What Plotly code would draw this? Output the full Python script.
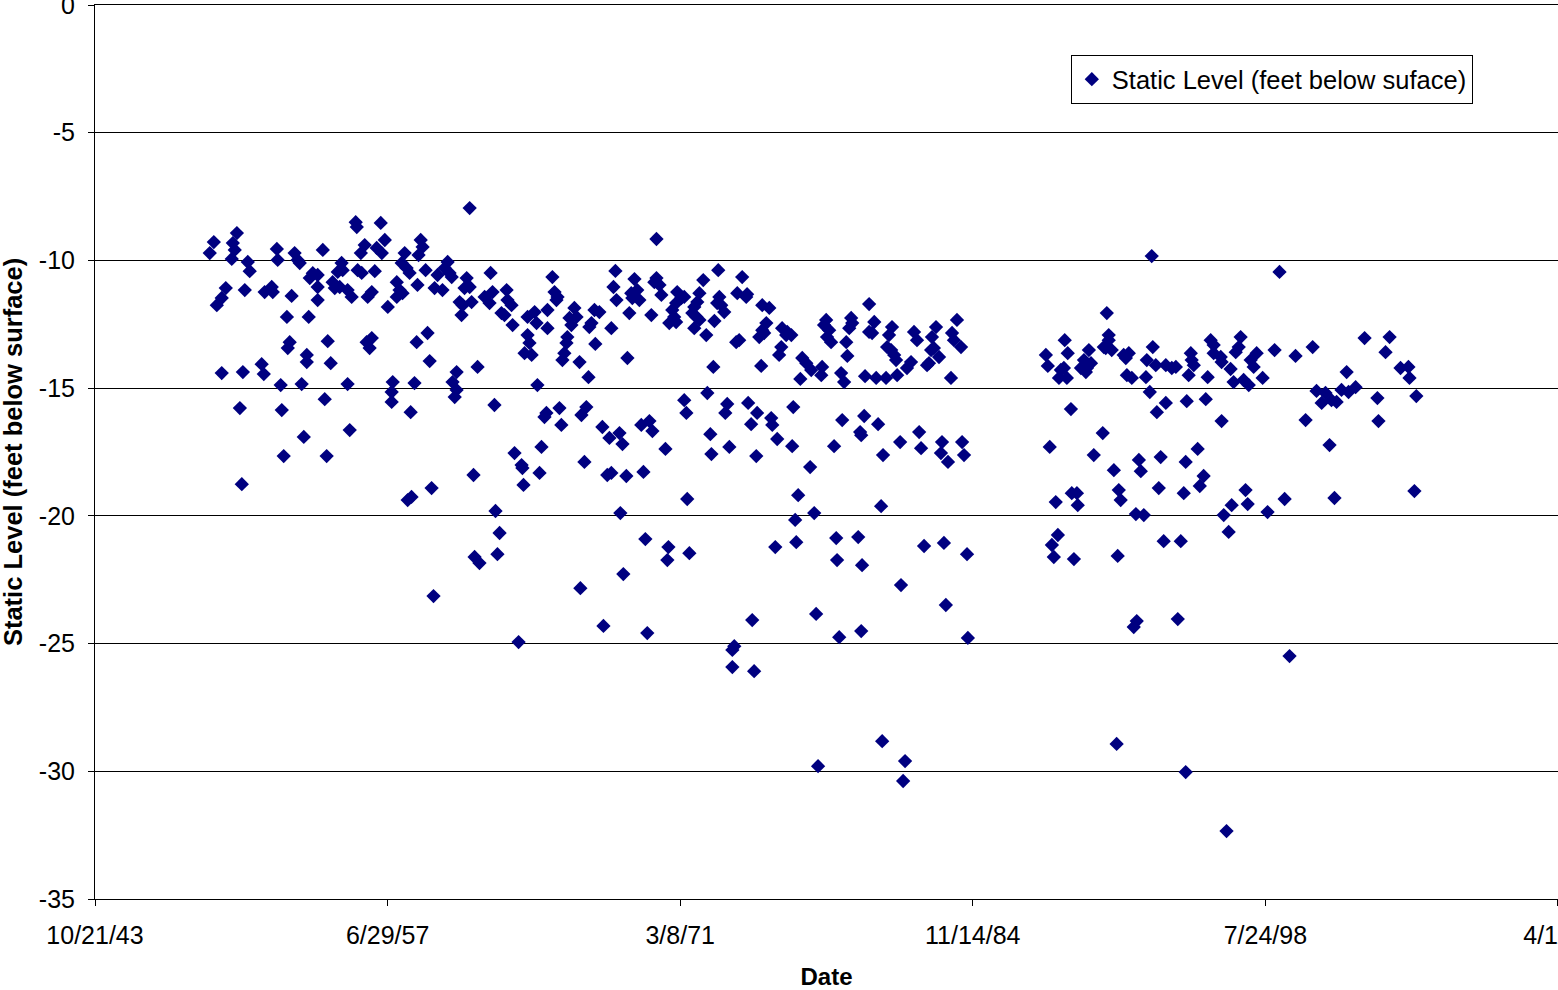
import datetime as dt
import plotly.graph_objects as go

# Measurement dates (decimal years) and static water level (feet, negative = below surface)
decimal_year = [
    1949.36, 1949.17, 1950.44, 1950.25, 1950.34, 1950.20, 1950.95, 1951.04, 1949.92, 1949.73,
    1949.50, 1950.81, 1952.31, 1952.35, 1951.74, 1952.07, 1952.12, 1953.00, 1952.78, 1953.14,
    1953.28, 1953.38, 1954.46, 1953.80, 1952.91, 1952.82, 1953.71, 1953.71, 1954.69, 1954.83,
    1949.73, 1950.72, 1951.60, 1951.70, 1952.49, 1953.47, 1950.58, 1952.54, 1954.55, 1955.62,
    1953.57, 1952.63, 1954.64, 1955.72, 1950.67, 1953.99, 1954.22, 1953.85, 1954.22, 1954.22,
    1954.92, 1955.02, 1955.25, 1955.34, 1955.39, 1955.16, 1955.62, 1955.81, 1956.00, 1956.05,
    1956.24, 1956.42, 1956.09, 1956.28, 1956.89, 1956.56, 1956.75, 1957.50, 1957.17, 1956.98,
    1957.36, 1957.22, 1956.51, 1956.65, 1956.75, 1957.73, 1957.68, 1957.68,
    1961.33, 1959.04, 1959.13, 1958.94, 1958.29, 1958.15, 1958.38, 1958.52, 1957.92, 1958.05,
    1958.19, 1957.92, 1959.27, 1958.89, 1960.30, 1960.16, 1960.39, 1960.49, 1959.83, 1959.69,
    1960.06, 1962.31, 1961.19, 1961.33, 1961.09, 1960.86, 1961.00, 1961.42, 1960.95, 1962.03,
    1962.26, 1962.40, 1963.06, 1963.10, 1963.29, 1962.82, 1962.96, 1963.34, 1964.04, 1964.37,
    1964.46, 1964.04, 1964.13, 1963.90, 1964.23, 1964.97, 1964.97, 1965.20, 1965.30, 1965.44,
    1965.39, 1966.23, 1966.33, 1966.00, 1966.09, 1965.90, 1965.86, 1965.76, 1965.67, 1966.47,
    1966.89, 1967.17, 1967.40, 1967.03, 1966.93, 1967.21, 1958.85, 1959.36, 1959.46, 1960.72,
    1960.53, 1960.72, 1960.63, 1961.70, 1958.75, 1958.57, 1962.49, 1964.50, 1964.83, 1964.92,
    1965.53, 1965.62, 1966.56, 1966.79, 1964.69, 1963.43, 1963.76, 1963.80, 1964.60, 1966.70,
    1961.51, 1958.43, 1958.61, 1959.55, 1963.85, 1962.54, 1962.73, 1961.56, 1961.79, 1962.63,
    1959.64, 1966.51, 1967.59, 1963.62,
    1970.07, 1968.15, 1969.04, 1968.06, 1968.20, 1968.80, 1967.96, 1968.89, 1969.17, 1969.27,
    1968.94, 1969.83, 1970.07, 1970.21, 1970.30, 1969.97, 1971.04, 1971.23, 1970.99, 1970.81,
    1970.90, 1970.67, 1970.99, 1971.37, 1972.08, 1971.98, 1971.84, 1971.75, 1971.94, 1971.84,
    1972.08, 1972.26, 1972.40, 1972.78, 1972.96, 1973.01, 1973.10, 1973.24, 1972.91, 1968.71,
    1972.73, 1974.08, 1973.85, 1974.27, 1974.31, 1973.80, 1973.94, 1975.02, 1975.35, 1975.21,
    1975.02, 1974.88, 1975.11, 1974.97, 1975.95, 1976.19, 1976.14, 1975.91, 1975.81, 1972.45,
    1971.37, 1971.47, 1973.38, 1973.29, 1974.36, 1974.78, 1974.50, 1975.44, 1975.49, 1967.54,
    1968.34, 1967.87, 1968.48, 1969.36, 1969.74, 1969.88, 1970.49, 1972.59, 1972.64, 1973.48,
    1974.74, 1975.72, 1967.77, 1967.96, 1968.66, 1969.46, 1971.51, 1968.38, 1969.55, 1970.63,
    1970.58, 1971.61, 1968.52, 1969.64, 1975.63, 1974.55, 1973.71, 1973.62, 1973.62, 1974.64,
    1980.02, 1978.01, 1977.91, 1978.15, 1978.05, 1978.24, 1979.18, 1979.23, 1979.09, 1978.95,
    1979.00, 1980.26, 1980.02, 1980.16, 1981.09, 1980.95, 1980.86, 1981.05, 1981.19, 1981.28,
    1982.12, 1982.26, 1983.15, 1982.96, 1982.92, 1983.05, 1983.29, 1984.13, 1983.90, 1983.99,
    1984.32, 1982.73, 1982.82, 1981.98, 1981.79, 1976.89, 1977.08, 1977.31, 1977.78, 1977.82,
    1976.38, 1976.80, 1978.71, 1978.85, 1979.83, 1980.35, 1980.81, 1981.33, 1983.85, 1976.47,
    1978.76, 1979.79, 1980.44, 1979.60, 1979.65, 1976.42, 1978.38, 1980.67, 1981.47, 1982.36,
    1982.45, 1983.43, 1983.38, 1983.71, 1984.37, 1984.46, 1977.26, 1976.70, 1977.45, 1980.58,
    1976.56, 1976.61, 1978.48, 1979.51, 1978.52, 1979.69, 1982.59, 1983.52, 1984.60, 1981.51,
    1983.61, 1977.54, 1978.62, 1979.65, 1984.64, 1980.63, 1981.70, 1977.63, 1981.61,
    1993.24, 1991.14, 1988.29, 1988.38, 1989.17, 1989.31, 1988.99, 1989.13, 1988.90, 1989.27,
    1990.30, 1990.07, 1990.40, 1990.21, 1989.93, 1990.16, 1991.23, 1991.23, 1991.09, 1991.37,
    1991.00, 1991.93, 1992.17, 1992.03, 1992.08, 1992.31, 1992.97, 1993.29, 1993.01, 1993.43,
    1993.90, 1994.18, 1994.37, 1995.07, 1995.11, 1995.21, 1994.97, 1995.86, 1996.00, 1996.14,
    1996.14, 1993.15, 1993.90, 1993.48, 1994.88, 1995.77, 1989.46, 1988.47, 1990.95, 1990.53,
    1991.47, 1992.64, 1992.73, 1993.66, 1994.83, 1995.39, 1995.67, 1995.49, 1993.57, 1994.74,
    1989.50, 1989.74, 1989.78, 1988.75, 1991.70, 1991.79, 1992.50, 1992.87, 1988.85, 1988.57,
    1988.66, 1989.60, 1991.65, 1993.80, 1994.60, 1992.54, 1992.40, 1994.46, 1991.60, 1994.83,
    1999.22, 1997.40, 1997.31, 1997.17, 1996.47, 1996.51, 1996.93, 1997.07, 1997.54, 1997.78,
    1997.87, 1998.15, 1998.01, 1998.43, 1998.99, 1999.97, 2000.77, 2002.36, 2000.95, 2001.37,
    2001.19, 2001.65, 2001.89, 2002.12, 2002.45, 2002.78, 2003.20, 2004.37, 2004.18, 2004.88,
    2005.25, 2005.30, 2003.80, 2005.62, 1996.51, 2000.44, 2003.85, 2001.56, 1997.63, 1996.98,
    1996.61, 1997.73, 1998.66, 1999.46, 2001.79, 2005.53, 1996.84, 1999.69, 1996.74,
]

static_level = [
    -9.28, -9.71, -8.93, -9.32, -9.59, -9.94, -10.06, -10.42, -11.08, -11.47,
    -11.75, -11.16, -9.55, -9.98, -11.24, -11.04, -11.24, -11.39, -12.21, -9.71,
    -9.98, -10.10, -9.59, -12.21, -13.20, -13.43, -13.70, -13.98, -13.16, -14.02,
    -14.41, -14.37, -14.06, -14.45, -14.88, -14.84, -15.78, -15.86, -15.43, -14.84,
    -16.91, -17.66, -17.66, -16.64, -18.76, -10.50, -10.57, -10.69, -11.04, -11.55,
    -10.85, -11.08, -11.04, -10.10, -10.38, -10.45, -11.16, -11.43, -8.50, -8.69,
    -9.71, -9.40, -10.38, -10.49, -10.42, -11.43, -11.24, -11.82, -8.53, -9.51,
    -9.20, -9.71, -13.20, -13.43, -13.04, -14.76, -15.15, -15.54,
    -7.95, -9.20, -9.47, -9.79, -9.71, -10.10, -10.30, -10.49, -10.85, -11.16,
    -11.28, -11.43, -10.38, -10.96, -10.06, -10.30, -10.49, -10.65, -10.57, -11.08,
    -11.16, -10.49, -10.69, -11.04, -11.08, -11.63, -11.75, -11.63, -12.14, -11.43,
    -11.67, -11.24, -11.16, -11.55, -11.75, -12.06, -12.14, -12.53, -12.21, -12.02,
    -12.45, -12.92, -13.23, -13.63, -13.70, -11.94, -12.65, -10.65, -11.24, -11.43,
    -11.55, -11.86, -12.21, -12.25, -12.53, -13.00, -13.23, -13.63, -13.90, -13.98,
    -14.57, -11.94, -12.02, -12.45, -12.61, -13.27, -13.20, -12.84, -13.94, -14.37,
    -14.76, -15.07, -15.35, -14.17, -14.80, -15.94, -15.66, -14.88, -16.13, -15.97,
    -15.78, -16.44, -16.05, -15.74, -17.30, -17.54, -18.01, -18.13, -18.32, -17.89,
    -18.40, -19.38, -19.26, -18.91, -18.79, -19.81, -20.67, -21.61, -21.85, -21.50,
    -23.14, -22.83, -24.31, -24.94,
    -9.16, -10.41, -10.73, -11.04, -11.55, -12.06, -12.65, -11.28, -11.16, -11.55,
    -11.47, -12.14, -10.69, -10.96, -11.35, -10.85, -11.24, -11.47, -11.67, -11.94,
    -12.21, -12.45, -12.41, -11.43, -11.28, -11.63, -11.82, -12.06, -12.21, -12.65,
    -12.33, -10.77, -12.92, -12.37, -10.38, -11.43, -11.75, -12.02, -11.67, -13.82,
    -14.17, -10.65, -11.28, -11.43, -11.32, -13.20, -13.12, -11.75, -11.86, -12.45,
    -12.73, -13.00, -12.84, -14.13, -12.65, -12.80, -12.92, -13.39, -13.70, -15.19,
    -15.47, -15.97, -15.62, -15.97, -15.58, -15.97, -16.41, -16.17, -16.44, -16.52,
    -16.76, -16.95, -17.19, -16.44, -16.29, -16.68, -17.38, -16.80, -17.58, -17.30,
    -17.66, -16.99, -18.40, -18.32, -18.44, -18.28, -19.34, -19.89, -20.91, -21.22,
    -21.73, -21.46, -22.28, -24.59, -21.22, -24.08, -25.10, -25.25, -25.92, -26.08,
    -11.71, -12.33, -12.53, -12.73, -13.00, -13.20, -12.25, -12.45, -12.65, -13.20,
    -13.74, -12.41, -12.80, -12.84, -12.61, -12.92, -13.39, -13.51, -13.70, -13.90,
    -12.80, -13.12, -12.61, -13.00, -13.51, -13.43, -13.78, -12.33, -12.84, -13.12,
    -13.39, -14.10, -14.02, -13.98, -14.21, -13.82, -14.02, -14.29, -14.49, -14.17,
    -12.92, -14.64, -14.41, -14.76, -14.53, -14.60, -14.60, -14.49, -14.60, -15.74,
    -16.25, -16.09, -16.41, -16.72, -16.84, -17.27, -17.27, -17.62, -17.11, -16.72,
    -17.35, -17.11, -17.54, -17.89, -17.11, -17.62, -18.09, -19.19, -19.89, -19.62,
    -20.16, -21.03, -20.87, -20.83, -21.73, -21.93, -21.18, -21.06, -21.50, -22.71,
    -23.49, -23.84, -24.75, -24.51, -24.78, -28.82, -29.60, -29.80, -30.38,
    -9.83, -12.06, -13.70, -14.13, -13.12, -13.63, -14.29, -14.21, -14.60, -14.60,
    -13.51, -13.90, -14.02, -14.21, -14.21, -14.37, -12.92, -13.12, -13.43, -13.51,
    -13.39, -13.70, -13.63, -13.82, -14.49, -14.60, -14.57, -13.39, -13.90, -14.10,
    -14.10, -14.21, -14.17, -13.63, -13.90, -14.10, -14.49, -14.57, -13.12, -13.31,
    -13.63, -15.15, -15.58, -15.94, -15.51, -15.43, -15.82, -17.30, -16.76, -17.62,
    -18.21, -17.81, -18.25, -17.70, -17.89, -17.38, -18.44, -18.83, -18.91, -19.11,
    -19.11, -19.11, -19.58, -19.46, -18.99, -19.38, -19.93, -19.97, -20.75, -21.14,
    -21.61, -21.69, -21.57, -20.99, -20.99, -24.12, -24.35, -24.04, -28.93, -30.03,
    -10.45, -13.00, -13.39, -13.59, -13.78, -13.98, -14.25, -14.76, -14.68, -14.88,
    -13.90, -13.63, -14.17, -14.60, -13.51, -13.74, -13.39, -14.37, -15.11, -15.19,
    -15.58, -15.47, -15.54, -15.07, -15.15, -14.96, -13.04, -13.00, -13.59, -14.21,
    -14.17, -14.60, -15.39, -15.31, -16.29, -16.25, -16.29, -17.23, -18.99, -19.58,
    -19.97, -19.54, -19.85, -19.34, -19.30, -19.03, -20.63, -25.49, -32.34,
]

# Axis ticks every 5000 days, labelled m/d/yy
tick_dates = ["1943-10-21", "1957-06-29", "1971-03-08", "1984-11-14", "1998-07-24", "2012-04-01"]
tick_labels = ["10/21/43", "6/29/57", "3/8/71", "11/14/84", "7/24/98", "4/1/12"]
level_ticks = [0, -5, -10, -15, -20, -25, -30, -35]
level_labels = ["0", "-5", "-10", "-15", "-20", "-25", "-30", "-35"]


def to_date(y):
    year = int(y)
    start = dt.datetime(year, 1, 1)
    length = (dt.datetime(year + 1, 1, 1) - start).total_seconds()
    return start + dt.timedelta(seconds=(y - year) * length)


dates = [to_date(y) for y in decimal_year]

FONT = "Arial, 'Liberation Sans', sans-serif"

fig = go.Figure()
fig.add_trace(go.Scatter(
    x=dates,
    y=static_level,
    mode="markers",
    name="Static Level (feet below suface)",
    marker=dict(symbol="diamond", size=11, color="#000080", line=dict(width=0)),
))

fig.update_layout(
    width=1558,
    height=990,
    margin=dict(l=95, r=0, t=5, b=91),
    paper_bgcolor="white",
    plot_bgcolor="white",
    font=dict(family=FONT, size=25, color="black"),
    showlegend=True,
    legend=dict(
        x=0.667, y=0.944, xanchor="left", yanchor="top",
        bgcolor="white", bordercolor="black", borderwidth=1,
        font=dict(family=FONT, size=25.5, color="black"),
        itemsizing="trace",
    ),
    xaxis=dict(
        type="date",
        range=["1943-10-21", "2012-04-01 04:00"],
        tickmode="array",
        tickvals=tick_dates,
        ticktext=tick_labels,
        showgrid=False,
        zeroline=False,
        showline=True,
        mirror=True,
        linecolor="black",
        linewidth=1,
        ticks="outside",
        ticklen=6,
        tickcolor="black",
        ticklabelstandoff=8,
        ticklabeloverflow="allow",
        tickfont=dict(family=FONT, size=25),
        title=dict(text="<b>Date</b>", font=dict(family=FONT, size=24), standoff=24),
        automargin=False,
    ),
    yaxis=dict(
        range=[-35, 0.001],
        tickmode="array",
        tickvals=level_ticks,
        ticktext=level_labels,
        showgrid=True,
        gridcolor="black",
        gridwidth=1,
        zeroline=False,
        showline=True,
        linecolor="black",
        linewidth=1,
        ticks="outside",
        ticklen=6,
        tickcolor="black",
        ticklabelstandoff=8,
        ticklabeloverflow="allow",
        tickfont=dict(family=FONT, size=25),
        automargin=False,
    ),
    annotations=[
        dict(
            text="<b>Static Level (feet below surface)</b>",
            xref="paper", yref="paper",
            x=-0.056, y=0.5,
            xanchor="center", yanchor="middle",
            textangle=-90,
            showarrow=False,
            font=dict(family=FONT, size=25.5, color="black"),
        )
    ],
)

fig.write_html("out.html")
